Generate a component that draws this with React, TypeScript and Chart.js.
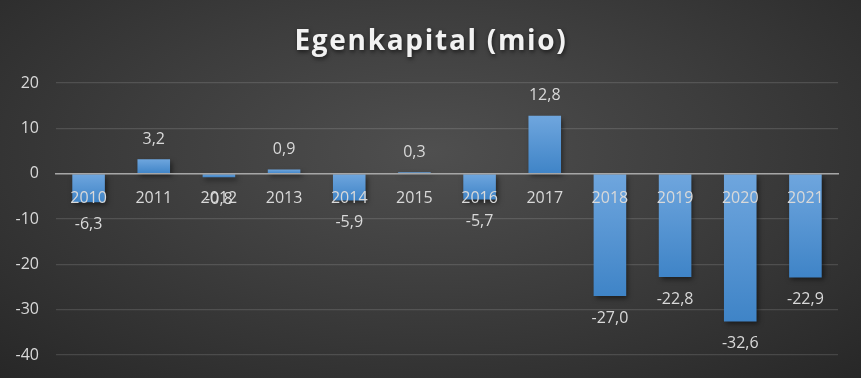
import React, { useEffect, useRef } from "react";
import { Chart, registerables } from "chart.js";

Chart.register(...registerables);

const chartTitle = "Egenkapital (mio)";
const years = ["2010", "2011", "2012", "2013", "2014", "2015", "2016", "2017", "2018", "2019", "2020", "2021"];
const equity = [-6.3, 3.2, -0.8, 0.9, -5.9, 0.3, -5.7, 12.8, -27.0, -22.8, -32.6, -22.9];
const yMin = -40;
const yMax = 20;
const yStep = 10;

const FONT = '"Open Sans", "Noto Sans", sans-serif';
const TEXT = "#d9d9d9";
const PLOT_BOTTOM = 355;

const fmt = (v: number) => v.toFixed(1).replace(".", ",");

export default function App() {
  const ref = useRef<HTMLCanvasElement | null>(null);

  useEffect(() => {
    if (!ref.current) return;

    const fixAreaPlugin = {
      id: "fixArea",
      afterLayout(chart: any) {
        const a = chart.chartArea;
        const ys = chart.scales.y;
        if (!a || !ys) return;
        a.bottom = PLOT_BOTTOM;
        a.height = PLOT_BOTTOM - a.top;
        ys.bottom = PLOT_BOTTOM;
        ys.height = PLOT_BOTTOM - ys.top;
        ys.configure();
      },
    };

    const shadowPlugin = {
      id: "barShadow",
      beforeDatasetsDraw(chart: any) {
        const c = chart.ctx;
        c.save();
        c.shadowColor = "rgba(0,0,0,0.5)";
        c.shadowBlur = 5;
        c.shadowOffsetX = 2;
        c.shadowOffsetY = 3;
      },
      afterDatasetsDraw(chart: any) {
        chart.ctx.restore();
      },
    };

    const labelPlugin = {
      id: "labelsAndTitle",
      afterDraw(chart: any) {
        const c = chart.ctx;
        const meta = chart.getDatasetMeta(0);
        c.save();
        c.font = `16px ${FONT}`;
        c.fillStyle = TEXT;
        c.textAlign = "center";
        c.textBaseline = "middle";
        meta.data.forEach((bar: any, i: number) => {
          const v = equity[i];
          const y = v >= 0 ? bar.y - 20 : bar.y + 22;
          c.fillText(fmt(v), bar.x, y);
        });
        c.restore();

        c.save();
        c.font = `bold 28px ${FONT}`;
        (c as any).letterSpacing = "1.7px";
        c.fillStyle = "#f2f2f2";
        c.textAlign = "center";
        c.textBaseline = "alphabetic";
        c.shadowColor = "rgba(0,0,0,0.6)";
        c.shadowBlur = 4;
        c.shadowOffsetX = 1;
        c.shadowOffsetY = 2;
        c.fillText(chartTitle, 431, 50);
        c.restore();
      },
    };

    const chart = new Chart(ref.current, {
      type: "bar",
      data: {
        labels: years,
        datasets: [
          {
            data: equity,
            categoryPercentage: 1,
            barPercentage: 0.5,
            backgroundColor: (ctx: any) => {
              const ch = ctx.chart;
              const ys = ch.scales && ch.scales.y;
              if (!ys || ctx.dataIndex == null) return "#5b9bd5";
              const v = equity[ctx.dataIndex];
              const p0 = ys.getPixelForValue(0);
              const p1 = ys.getPixelForValue(v);
              const top = Math.min(p0, p1);
              const bot = Math.max(p0, p1);
              if (!isFinite(top) || !isFinite(bot) || bot - top < 1) return "#5b9bd5";
              const g = ch.ctx.createLinearGradient(0, top, 0, bot);
              g.addColorStop(0, "#6fa6de");
              g.addColorStop(1, "#3f84c7");
              return g;
            },
            borderWidth: 0,
          },
        ],
      },
      options: {
        animation: false,
        responsive: false,
        maintainAspectRatio: false,
        layout: { padding: { top: 83, bottom: 18, right: 23, left: 0 } },
        plugins: {
          legend: { display: false },
          tooltip: { enabled: false },
          title: { display: false },
        },
        scales: {
          x: {
            type: "category",
            position: { y: 0 } as any,
            grid: { display: false, drawTicks: true, tickLength: 15 },
            border: { display: true, color: "#a6a6a6", width: 1.5, z: 1 },
            ticks: {
              color: TEXT,
              font: { family: FONT, size: 16 },
              padding: 0,
              maxRotation: 0,
              autoSkip: false,
              z: 2,
            },
          },
          y: {
            min: yMin,
            max: yMax,
            grid: { color: "rgba(255,255,255,0.13)", lineWidth: 1.2, drawTicks: false },
            border: { display: false },
            ticks: {
              stepSize: yStep,
              color: TEXT,
              font: { family: FONT, size: 16 },
              padding: 17,
            },
            afterFit: (scale: any) => {
              scale.width = 56;
            },
          },
        },
      },
      plugins: [fixAreaPlugin, shadowPlugin, labelPlugin],
    });

    return () => chart.destroy();
  }, []);

  return (
    <div
      style={{
        position: "fixed",
        left: 0,
        top: 0,
        width: 861,
        height: 378,
        background:
          "radial-gradient(ellipse 75% 85% at 50% 40%, #4f4f4f 0%, #3d3d3d 45%, #262626 100%)",
      }}
    >
      <canvas ref={ref} width={861} height={378} style={{ display: "block" }} />
    </div>
  );
}
